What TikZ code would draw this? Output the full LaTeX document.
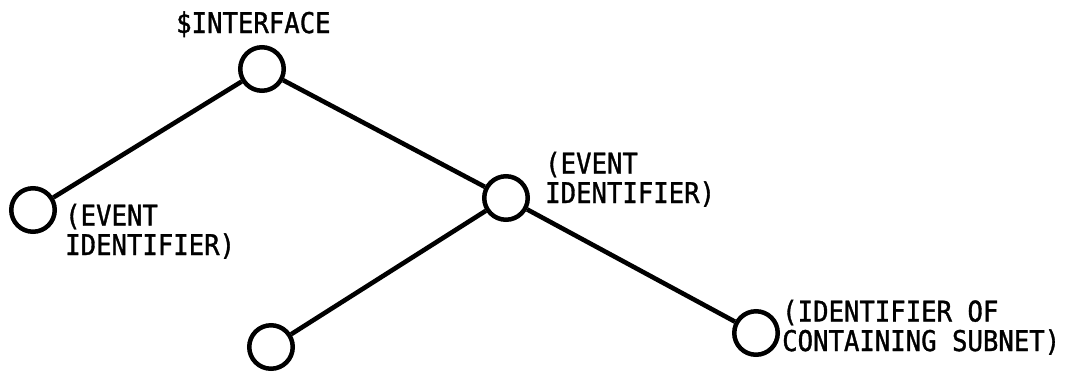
\documentclass[tikz,border=0pt]{standalone}
\usepackage{fontspec}
\newfontfamily\labelfont[FakeStretch=0.9,FakeBold=1.2]{DejaVu Sans Mono}
\begin{document}
\begin{tikzpicture}[x=1pt,y=-1pt,
  vertex/.style={circle,draw=black,line width=4.5pt,minimum size=43.5pt,inner sep=0pt},
  edge/.style={draw=black,line width=4.6pt},
  lbl/.style={anchor=base west,inner sep=0pt,align=left,
    font=\labelfont\fontsize{28.5pt}{29.5pt}\selectfont}]
\useasboundingbox (0,0) rectangle (1083,373);
\node[vertex] (top) at (262,69) {};
\node[vertex] (left) at (33,210) {};
\node[vertex] (mid) at (506,198) {};
\node[vertex] (bl) at (271,347) {};
\node[vertex] (br) at (756,333) {};
\draw[edge] (top) -- (left);
\draw[edge] (top) -- (mid);
\draw[edge] (mid) -- (bl);
\draw[edge] (mid) -- (br);
\node[lbl] (ttop) at (176,33) {\$INTERFACE};
\node[lbl] (tleft) at (65,255) {(EVENT\\IDENTIFIER)};
\node[lbl] (tmid) at (545,203) {(EVENT\\IDENTIFIER)};
\node[lbl] (tbr) at (782,351) {(IDENTIFIER OF\\CONTAINING SUBNET)};
\end{tikzpicture}
\end{document}
